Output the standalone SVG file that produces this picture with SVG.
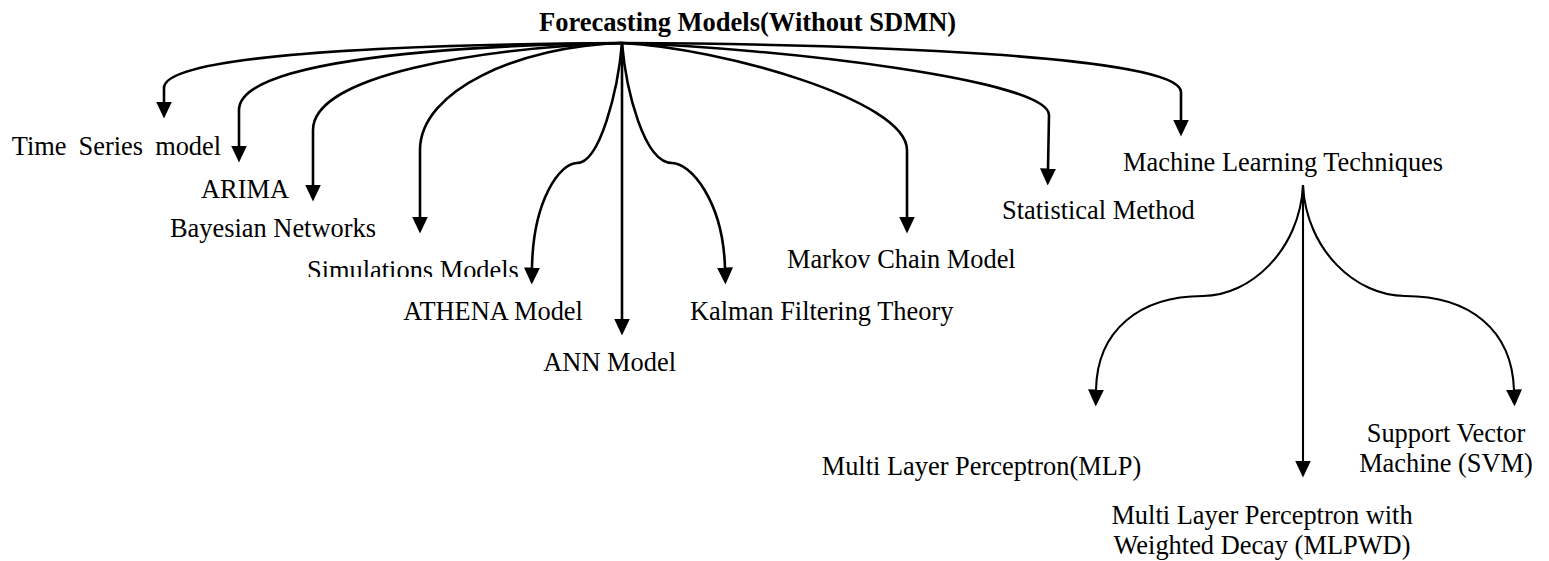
<svg xmlns="http://www.w3.org/2000/svg" width="1549" height="561" viewBox="0 0 1549 561">
<style>
  text { font-family: "Liberation Serif", "Times New Roman", serif; font-size: 26.4px; fill: #000; }
  .title { font-weight: bold; font-size: 26.5px; }
  .c { fill: none; stroke: #000; stroke-width: 2.6; marker-end: url(#ah); }
  .s { fill: none; stroke: #000; stroke-width: 2.1; marker-end: url(#ah); }
</style>
<defs>
  <marker id="ah" markerUnits="userSpaceOnUse" markerWidth="17" markerHeight="16" viewBox="0 0 17 16" refX="0.5" refY="8" orient="auto">
    <path d="M0,0 L17,8 L0,16 z" fill="#000"/>
  </marker>
  <clipPath id="simclip"><rect x="300" y="250" width="230" height="27"/></clipPath>
</defs>
<rect width="1549" height="561" fill="#fff"/>
<g id="connectors">
  <path class="c" d="M622,43 C350,45 164,58 164,88 L164,102"/>
  <path class="c" d="M622,43 C420,46 239,64 239,110 L239,146"/>
  <path class="c" d="M622,43 C480,48 313,75 313,130 L313,185"/>
  <path class="c" d="M622,43 C520,46 420,90 420,150 L420,217"/>
  <path class="c" d="M622,43 C618,90 600,163 577,163 C560,163 533,200 532,268"/>
  <path class="c" d="M622,43 L622,319"/>
  <path class="c" d="M622,43 C626,90 644,163 672,163 C690,163 723,200 725,268"/>
  <path class="c" d="M622,43 C720,48 907,100 907,150 L907,217"/>
  <path class="c" d="M622,43 C780,48 1049,80 1049,115 L1048,169"/>
  <path class="c" d="M622,43 C850,44 1181,55 1181,92 L1181,120"/>
  <path class="s" d="M1303,185 L1303,461"/>
  <path class="s" d="M1303,185 C1300,250 1250,296 1203,296 C1140,296 1097,330 1096,390"/>
  <path class="s" d="M1303,185 C1306,250 1356,296 1405,296 C1470,296 1512,330 1514,390"/>
</g>
<g id="root"><text class="title" x="539" y="31">Forecasting Models(Without SDMN)</text></g>
<g id="time-series"><text x="11.7" y="155" word-spacing="5.5">Time Series model</text></g>
<g id="arima"><text x="201" y="198">ARIMA</text></g>
<g id="bayesian"><text x="170" y="237">Bayesian Networks</text></g>
<g id="simulations"><text x="307" y="278.5" clip-path="url(#simclip)">Simulations Models</text></g>
<g id="athena"><text x="403.3" y="320">ATHENA Model</text></g>
<g id="ann"><text x="543.3" y="371">ANN Model</text></g>
<g id="kalman"><text x="690" y="320">Kalman Filtering Theory</text></g>
<g id="markov"><text x="787" y="268">Markov Chain Model</text></g>
<g id="statistical"><text x="1002" y="219">Statistical Method</text></g>
<g id="ml"><text x="1123" y="170.7">Machine Learning Techniques</text></g>
<g id="mlp"><text x="821.7" y="475">Multi Layer Perceptron(MLP)</text></g>
<g id="svm"><text x="1446" y="441.7" text-anchor="middle">Support Vector</text><text x="1446" y="471.7" text-anchor="middle">Machine (SVM)</text></g>
<g id="mlpwd"><text x="1262" y="524" text-anchor="middle">Multi Layer Perceptron with</text><text x="1262" y="554" text-anchor="middle">Weighted Decay (MLPWD)</text></g>
</svg>
